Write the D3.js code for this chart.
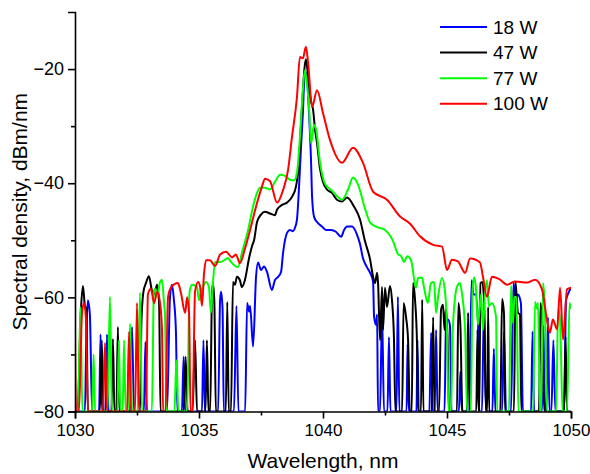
<!DOCTYPE html>
<html>
<head>
<meta charset="utf-8">
<script src="https://cdn.jsdelivr.net/npm/d3@7"></script>
<style>
  html, body { margin: 0; padding: 0; background: #fff; }
  svg { display: block; }
  text { font-family: Arial, "Liberation Sans", sans-serif; fill: #000; }
</style>
</head>
<body>
<svg id="chart" width="590" height="474"></svg>
<script>
// ---- data: [wavelength nm, spectral density dBm/nm] ----
const series18W = [
  [1030.00,-80],
  [1030.40,-80],[1030.46,-66],[1030.52,-60.5],[1030.60,-63],[1030.69,-80],
  [1030.97,-80],[1031.03,-66.5],[1031.09,-80],
  [1031.23,-80],[1031.29,-66.5],[1031.35,-80],
  [1032.22,-80],[1032.30,-65.2],[1032.38,-80],
  [1032.78,-80],[1032.84,-67.8],[1032.90,-80],
  [1033.71,-80],[1033.83,-60],[1033.91,-57.8],[1033.99,-60.5],[1034.07,-66],[1034.13,-80],
  [1034.31,-80],[1034.38,-70.4],[1034.44,-80],
  [1035.12,-80],[1035.18,-67.5],[1035.24,-80],
  [1035.77,-80],[1035.85,-60.5],[1035.89,-59],[1035.95,-62],[1036.00,-80],
  [1036.41,-80],[1036.51,-61.5],[1036.59,-80],
  [1036.86,-80],[1036.94,-61],[1037.02,-62.5],[1037.06,-61.5],[1037.18,-68.6],[1037.30,-56.4],
  [1037.38,-53.9],[1037.50,-55.2],[1037.62,-54.6],[1037.74,-55.5],[1037.94,-58.7],[1038.06,-57],
  [1038.19,-56.4],[1038.31,-55.5],[1038.39,-52.2],[1038.55,-48.7],[1038.67,-48.2],[1038.79,-48.4],
  [1038.87,-47.8],[1038.95,-46.4],[1039.03,-41],[1039.11,-34],[1039.19,-27.6],[1039.25,-21.5],
  [1039.31,-20.5],[1039.38,-23],[1039.44,-28],[1039.52,-36.4],[1039.56,-42.4],[1039.64,-45.9],
  [1039.76,-46.8],[1039.96,-47.6],[1040.12,-48.2],[1040.32,-48.2],[1040.52,-48.5],[1040.73,-49.4],
  [1040.85,-48.2],[1040.97,-47.6],[1041.17,-47.6],[1041.37,-49.0],[1041.49,-50.6],[1041.61,-53.1],
  [1041.77,-54.7],[1041.90,-55.7],[1042.02,-57.3],[1042.06,-63.4],[1042.14,-64.8],[1042.18,-63],[1042.22,-80],
  [1042.30,-80],[1042.38,-62.5],[1042.46,-80],
  [1042.60,-80],[1042.66,-67],[1042.72,-80],
  [1042.96,-80],[1043.02,-59.9],[1043.08,-80],
  [1043.37,-80],[1043.41,-68.2],[1043.46,-80],
  [1043.77,-80],[1043.81,-67.5],[1043.86,-80],
  [1044.29,-80],[1044.36,-66.2],[1044.42,-80],
  [1044.50,-80],[1044.56,-65.7],[1044.62,-80],
  [1044.90,-80],[1044.96,-64.5],[1045.04,-63.9],[1045.12,-65],[1045.18,-80],
  [1045.48,-80],[1045.54,-73],[1045.60,-80],
  [1045.90,-80],[1045.99,-57],[1046.07,-59.5],[1046.15,-59.5],[1046.25,-64.4],[1046.30,-80],
  [1046.41,-80],[1046.49,-61.7],[1046.57,-80],
  [1046.83,-80],[1046.89,-69],[1046.95,-80],
  [1047.22,-80],[1047.30,-66],[1047.38,-80],
  [1047.58,-80],[1047.68,-57.5],[1047.78,-60.5],[1047.86,-59.5],[1047.98,-61],[1048.06,-80],
  [1048.39,-80],[1048.45,-66],[1048.51,-80],
  [1048.83,-80],[1048.89,-65],[1048.95,-80],
  [1049.01,-80],[1049.07,-63.5],[1049.13,-80],
  [1049.21,-80],[1049.29,-67.5],[1049.37,-80],
  [1049.72,-80],[1049.80,-60.5],[1049.90,-59.2],[1050.00,-58.3]
];

const series47W = [
  [1030.00,-80],
  [1030.10,-80],[1030.24,-62],[1030.32,-58],[1030.40,-61.5],[1030.46,-62],[1030.52,-80],
  [1031.00,-80],[1031.08,-67.5],[1031.15,-80],
  [1031.47,-80],[1031.53,-67.3],[1031.59,-80],
  [1031.67,-80],[1031.73,-65.2],[1031.79,-80],
  [1032.62,-80],[1032.68,-64],[1032.76,-59],[1032.86,-57.5],[1032.98,-56.3],[1033.10,-58.8],
  [1033.19,-59.5],[1033.31,-57.8],[1033.39,-61],[1033.45,-80],
  [1034.38,-80],[1034.46,-70.4],[1034.54,-80],
  [1034.74,-80],[1034.84,-67.5],[1034.92,-80],
  [1035.26,-80],[1035.32,-67.5],[1035.38,-80],
  [1035.45,-80],[1035.52,-60],[1035.56,-57.5],[1035.62,-61],[1035.68,-80],
  [1036.08,-80],[1036.14,-60.8],[1036.20,-80],
  [1036.29,-80],[1036.37,-57.3],[1036.45,-57.8],[1036.53,-56.4],[1036.65,-57],[1036.73,-58.2],
  [1036.85,-57],[1037.02,-53.1],[1037.14,-51],[1037.22,-50],[1037.34,-46.8],[1037.50,-45.5],
  [1037.66,-45.0],[1037.86,-45.3],[1038.06,-45.6],[1038.15,-44.6],[1038.35,-43.8],[1038.55,-43.4],
  [1038.75,-42.4],[1038.91,-40.6],[1039.03,-36.4],[1039.11,-30],[1039.19,-24],[1039.25,-20],
  [1039.31,-18.3],[1039.37,-20],[1039.44,-23.1],[1039.52,-25.7],[1039.60,-27.1],[1039.68,-30.6],
  [1039.76,-33],[1039.88,-37.5],[1040.00,-39.8],[1040.16,-41.1],[1040.36,-41.7],[1040.56,-42.9],
  [1040.77,-43.2],[1040.97,-42.5],[1041.25,-44.1],[1041.49,-46.3],[1041.69,-50.1],[1041.90,-53.4],
  [1042.02,-56.4],[1042.10,-57.5],[1042.18,-55.7],[1042.22,-57.5],[1042.30,-67.5],[1042.38,-58.2],
  [1042.42,-65.7],[1042.50,-58.3],[1042.58,-61.7],[1042.70,-58],[1042.78,-60.4],[1042.86,-67],[1042.92,-80],
  [1043.19,-80],[1043.25,-61],[1043.35,-63.5],[1043.43,-67.5],[1043.50,-80],
  [1043.58,-80],[1043.63,-57.5],[1043.71,-60.4],[1043.79,-68],[1043.83,-80],
  [1043.95,-80],[1044.00,-60.4],[1044.05,-80],
  [1044.38,-80],[1044.44,-63.5],[1044.50,-80],
  [1044.68,-80],[1044.76,-62.2],[1044.84,-61.3],[1044.90,-65.7],[1044.96,-62],[1045.02,-66.9],[1045.08,-80],
  [1045.40,-80],[1045.46,-61],[1045.54,-65],[1045.62,-80],
  [1045.80,-80],[1045.85,-62.7],[1045.91,-80],
  [1046.18,-80],[1046.23,-65.7],[1046.27,-80],
  [1046.30,-80],[1046.35,-57.5],[1046.42,-57.3],[1046.50,-61],[1046.57,-80],
  [1046.62,-80],[1046.66,-61.7],[1046.70,-80],
  [1047.15,-80],[1047.22,-60.3],[1047.30,-63],[1047.34,-80],
  [1047.70,-80],[1047.76,-57.3],[1047.86,-62.7],[1047.94,-63],[1048.00,-80],
  [1048.71,-80],[1048.77,-61],[1048.85,-65.7],[1048.92,-80],
  [1049.72,-80],[1049.78,-66.9],[1049.84,-80],
  [1050.00,-80]
];

const series77W = [
  [1030.00,-80],
  [1030.12,-80],[1030.22,-61.7],[1030.30,-80],
  [1030.69,-80],[1030.75,-70],[1030.81,-80],
  [1031.31,-80],[1031.41,-59.9],[1031.49,-80],
  [1031.71,-80],[1031.77,-67.5],[1031.83,-80],
  [1031.92,-80],[1031.98,-67.5],[1032.04,-80],
  [1032.14,-80],[1032.22,-64.6],[1032.30,-80],
  [1032.52,-80],[1032.62,-59.2],[1032.70,-80],
  [1033.10,-80],[1033.18,-59],[1033.23,-58.5],[1033.31,-60],[1033.43,-57.3],[1033.51,-56.9],
  [1033.59,-61],[1033.63,-63],[1033.69,-80],
  [1034.01,-80],[1034.09,-71],[1034.17,-80],
  [1034.52,-80],[1034.62,-59],[1034.72,-57.8],[1034.86,-58],[1034.92,-58.2],[1035.00,-60.5],
  [1035.08,-59],[1035.16,-58.2],[1035.28,-57.3],[1035.40,-58.2],[1035.48,-62.7],[1035.54,-59],
  [1035.65,-53.8],[1035.85,-53.8],[1036.05,-53.4],[1036.17,-53.1],[1036.29,-53.8],[1036.45,-54.5],
  [1036.57,-54.7],[1036.73,-52.2],[1036.98,-48.2],[1037.18,-44.1],[1037.34,-41.7],[1037.46,-40.8],
  [1037.66,-40.8],[1037.86,-41.1],[1038.06,-39.8],[1038.27,-38.5],[1038.47,-38.7],[1038.67,-39.4],
  [1038.83,-39.5],[1038.95,-38.2],[1039.07,-32],[1039.19,-23.6],[1039.27,-20.2],[1039.35,-22.5],
  [1039.44,-27],[1039.52,-33],[1039.64,-29.8],[1039.72,-30.5],[1039.88,-36.4],[1040.08,-40.1],
  [1040.36,-41.3],[1040.60,-42.4],[1040.77,-42.9],[1041.01,-41.1],[1041.21,-39.0],[1041.41,-40.2],
  [1041.69,-44.4],[1041.90,-46.9],[1042.14,-47.6],[1042.50,-48.2],[1042.82,-50.1],[1043.02,-52.4],
  [1043.15,-52.8],[1043.27,-53.8],[1043.39,-52.8],[1043.55,-53.5],[1043.75,-58.3],[1043.83,-56.6],
  [1043.99,-56.5],[1044.07,-58.2],[1044.23,-61],[1044.35,-57.5],[1044.48,-57.3],[1044.56,-62.7],
  [1044.64,-59.9],[1044.80,-56.6],[1044.92,-59],[1045.00,-66],[1045.06,-80],
  [1045.16,-80],[1045.24,-65],[1045.40,-58.2],[1045.52,-57.5],[1045.60,-59.2],[1045.73,-65.7],[1045.81,-80],
  [1045.96,-80],[1046.03,-58.7],[1046.09,-56.5],[1046.16,-58],[1046.25,-64.8],[1046.37,-59.5],
  [1046.45,-65.7],[1046.52,-60],[1046.61,-57],[1046.69,-61.5],[1046.81,-61],[1046.98,-63.5],[1047.02,-80],
  [1047.50,-80],[1047.58,-58],[1047.66,-64.5],[1047.72,-60],[1047.80,-59.9],[1047.88,-80],
  [1048.47,-80],[1048.55,-60.8],[1048.63,-62],[1048.67,-61],[1048.75,-80],
  [1048.80,-80],[1048.87,-57.5],[1048.95,-62],[1049.03,-80],
  [1049.40,-80],[1049.48,-62],[1049.56,-64],[1049.66,-80],
  [1049.84,-80],[1049.94,-61],[1050.00,-62]
];

const series100W = [
  [1030.00,-66],[1030.04,-80],
  [1030.16,-80],[1030.28,-63],[1030.36,-61],[1030.44,-63.5],[1030.52,-80],
  [1031.13,-80],[1031.21,-68],[1031.29,-80],
  [1032.10,-80],[1032.18,-66],[1032.26,-80],
  [1032.42,-80],[1032.50,-61],[1032.58,-80],
  [1032.86,-80],[1032.94,-59.5],[1033.06,-58.5],[1033.19,-61],[1033.31,-59],[1033.43,-61],[1033.51,-66],[1033.55,-80],
  [1033.65,-80],[1033.75,-60],[1033.87,-58.3],[1034.15,-57.5],[1034.27,-59.2],[1034.44,-62.7],
  [1034.52,-60],[1034.60,-63],[1034.66,-80],
  [1034.74,-80],[1034.84,-59],[1034.96,-57.3],[1035.04,-58],[1035.12,-61.5],[1035.20,-56],
  [1035.28,-53.5],[1035.44,-53.5],[1035.65,-54.5],[1035.85,-52.5],[1036.09,-52],[1036.33,-53],
  [1036.49,-52.5],[1036.65,-54],[1036.85,-51.5],[1037.06,-48.2],[1037.30,-44.1],[1037.54,-40.6],
  [1037.66,-39.2],[1037.86,-39.6],[1038.15,-43.4],[1038.39,-41.2],[1038.59,-37.7],[1038.75,-31.9],
  [1038.95,-24.9],[1039.07,-17.9],[1039.19,-18.1],[1039.31,-16.1],[1039.40,-18.9],[1039.56,-26.6],
  [1039.76,-23.7],[1040.00,-27.7],[1040.28,-32.4],[1040.77,-36.4],[1041.21,-33.8],[1041.61,-36.4],
  [1042.02,-41.5],[1042.58,-42.9],[1043.10,-45.8],[1043.51,-47.1],[1043.91,-49.3],[1044.44,-50.8],
  [1044.80,-51.1],[1045.00,-55.2],[1045.20,-53.4],[1045.44,-53.7],[1045.73,-55.7],[1045.93,-53.2],
  [1046.33,-53.9],[1046.45,-56.4],[1046.61,-59.9],[1046.81,-56.4],[1047.14,-56.9],[1047.42,-57.8],
  [1047.74,-57.2],[1048.23,-57.4],[1048.55,-56.9],[1048.83,-58.6],[1049.03,-63.9],[1049.15,-66.2],
  [1049.27,-63.9],[1049.44,-65.6],[1049.56,-58.3],[1049.68,-67.4],[1049.84,-58.6],[1050.00,-58.3]
];

const seriesNames = ["18 W", "47 W", "77 W", "100 W"];
const xTickValues = [1030, 1035, 1040, 1045, 1050];
const xMinorTicks = [1032.5, 1037.5, 1042.5, 1047.5];
const yTickValues = [-80, -60, -40, -20];
const yMinorTicks = [-70, -50, -30];
const xLabel = "Wavelength, nm";
const yLabel = "Spectral density, dBm/nm";

// ---- styles ----
const colors = ["#0000ff", "#000000", "#00ff00", "#ff0000"];
const allSeries = [series18W, series47W, series77W, series100W];

const svg = d3.select("#chart");
const margin = { left: 75, right: 19, top: 12, bottom: 62.5 };
const W = 590, H = 474;

const x = d3.scaleLinear().domain([1030, 1050]).range([margin.left, W - margin.right]);
const y = d3.scaleLinear().domain([-80, -10]).range([H - margin.bottom, margin.top]);

svg.append("defs").append("clipPath").attr("id", "clip")
  .append("rect")
  .attr("x", margin.left).attr("y", margin.top)
  .attr("width", W - margin.left - margin.right)
  .attr("height", H - margin.top - margin.bottom);

const line = d3.line()
  .x(d => x(d[0]))
  .y(d => y(Math.max(d[1], -80)))
  .curve(d3.curveMonotoneX);

const plot = svg.append("g").attr("clip-path", "url(#clip)");
allSeries.forEach((s, i) => {
  plot.append("path")
    .datum(s)
    .attr("fill", "none")
    .attr("stroke", colors[i])
    .attr("stroke-width", 2)
    .attr("stroke-linejoin", "round")
    .attr("d", line);
});

// axes
const fmt = d3.format("d");
const xAxis = svg.append("g")
  .attr("transform", `translate(0,${H - margin.bottom})`)
  .call(d3.axisBottom(x).tickValues(xTickValues).tickSize(7).tickPadding(5).tickFormat(fmt));
svg.append("g")
  .attr("transform", `translate(0,${H - margin.bottom})`)
  .call(d3.axisBottom(x).tickValues(xMinorTicks).tickSize(4).tickFormat(""))
  .call(g => g.select(".domain").remove());

const yAxis = svg.append("g")
  .attr("transform", `translate(${margin.left},0)`)
  .call(d3.axisLeft(y).tickValues(yTickValues).tickSize(7).tickPadding(4).tickFormat(d3.format("d")));
svg.append("g")
  .attr("transform", `translate(${margin.left},0)`)
  .call(d3.axisLeft(y).tickValues(yMinorTicks).tickSize(4).tickFormat(""))
  .call(g => g.select(".domain").remove());

svg.selectAll(".domain").attr("stroke-width", 1.6).attr("stroke", "#000");
svg.selectAll(".tick line").attr("stroke-width", 1.6).attr("stroke", "#000");
svg.selectAll(".tick text")
  .attr("font-size", 18)
  .attr("font-family", "Arial, 'Liberation Sans', sans-serif")
  .attr("fill", "#000");
xAxis.selectAll(".tick text").attr("font-size", 17);
// y labels use a true minus sign
yAxis.selectAll(".tick text").text(d => (d < 0 ? "\u2212" + Math.abs(d) : d));

// axis titles
svg.append("text")
  .attr("x", (margin.left + W - margin.right) / 2)
  .attr("y", 468)
  .attr("text-anchor", "middle")
  .attr("font-size", 21)
  .text(xLabel);

svg.append("text")
  .attr("transform", `translate(27,${(margin.top + H - margin.bottom) / 2}) rotate(-90)`)
  .attr("text-anchor", "middle")
  .attr("font-size", 21)
  .text(yLabel);

// legend
const legend = svg.append("g");
seriesNames.forEach((name, i) => {
  const cy = 27 + i * 25.6;
  legend.append("line")
    .attr("x1", 440).attr("x2", 487)
    .attr("y1", cy).attr("y2", cy)
    .attr("stroke", colors[i]).attr("stroke-width", 2);
  legend.append("text")
    .attr("x", 493).attr("y", cy)
    .attr("dy", "0.35em")
    .attr("font-size", 19)
    .text(name);
});
</script>
</body>
</html>
